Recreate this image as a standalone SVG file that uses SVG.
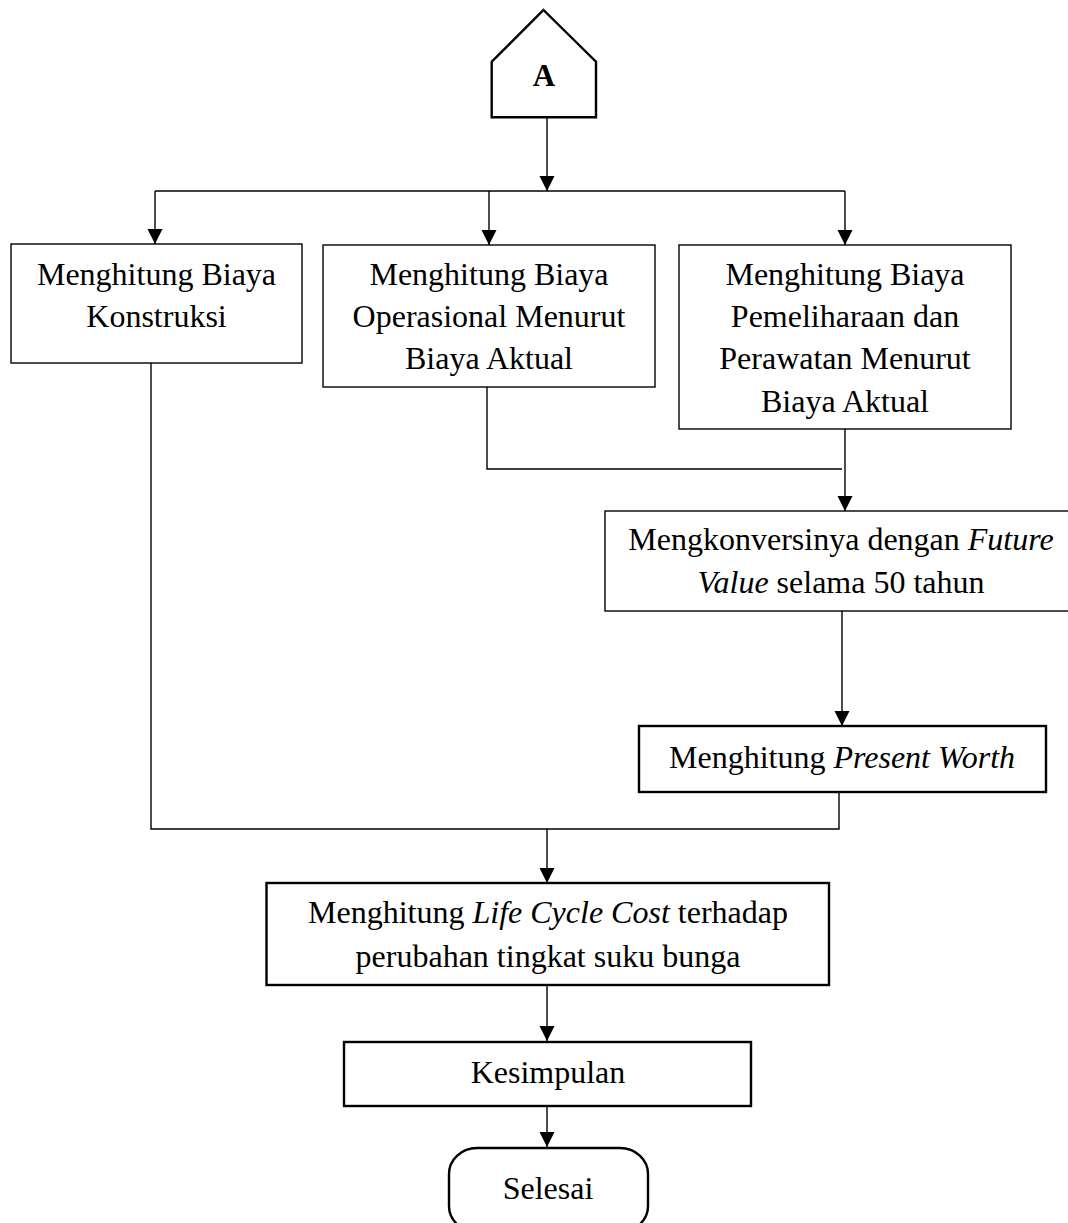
<svg xmlns="http://www.w3.org/2000/svg" width="1068" height="1223" viewBox="0 0 1068 1223">
<style>
text{font-family:"Liberation Serif","Times New Roman",serif;font-size:32px;fill:#000;text-anchor:middle}
.i{font-style:italic}
.thin{fill:#fff;stroke:#000;stroke-width:1.4}
.thick{fill:#fff;stroke:#000;stroke-width:2.4}
.c{fill:none;stroke:#000;stroke-width:1.4}
</style>
<defs>
<marker id="ah" markerUnits="userSpaceOnUse" markerWidth="16" markerHeight="16" refX="15" refY="7.5" orient="auto">
<path d="M0,0 L15,7.5 L0,15 z" fill="#000"/>
</marker>
</defs>
<rect width="1068" height="1223" fill="#fff"/>
<g id="connectors">
<path class="c" d="M547,117 V191" marker-end="url(#ah)"/>
<path class="c" d="M155,191 H845"/>
<path class="c" d="M155,191 V244" marker-end="url(#ah)"/>
<path class="c" d="M489,191 V245" marker-end="url(#ah)"/>
<path class="c" d="M845,191 V245" marker-end="url(#ah)"/>
<path class="c" d="M151,363 V829 H839 V792"/>
<path class="c" d="M487,387 V469 H842"/>
<path class="c" d="M845,429 V511" marker-end="url(#ah)"/>
<path class="c" d="M842,611 V726" marker-end="url(#ah)"/>
<path class="c" d="M547,829 V883" marker-end="url(#ah)"/>
<path class="c" d="M547,985 V1041" marker-end="url(#ah)"/>
<path class="c" d="M547,1106 V1147" marker-end="url(#ah)"/>
</g>
<g id="nodeA">
<path class="thick" d="M543.5,10 L596,61.7 V117.3 H491.7 V61.7 Z"/>
<text x="544" y="85.5" style="font-weight:bold;font-size:31px">A</text>
</g>
<g id="node1">
<rect class="thin" x="11" y="244" width="291" height="119"/>
<text x="156.5" y="285">Menghitung Biaya</text>
<text x="156.5" y="327">Konstruksi</text>
</g>
<g id="node2">
<rect class="thin" x="323" y="245" width="332" height="142"/>
<text x="489" y="285">Menghitung Biaya</text>
<text x="489" y="327">Operasional Menurut</text>
<text x="489" y="369">Biaya Aktual</text>
</g>
<g id="node3">
<rect class="thin" x="679" y="245" width="332" height="184"/>
<text x="845" y="285">Menghitung Biaya</text>
<text x="845" y="327">Pemeliharaan dan</text>
<text x="845" y="369">Perawatan Menurut</text>
<text x="845" y="412">Biaya Aktual</text>
</g>
<g id="node4">
<rect class="thin" x="605" y="511" width="472" height="100"/>
<text x="841" y="550">Mengkonversinya dengan <tspan class="i">Future</tspan></text>
<text x="841" y="593"><tspan class="i">Value</tspan> selama 50 tahun</text>
</g>
<g id="node5">
<rect class="thick" x="639" y="726" width="407" height="66"/>
<text x="842" y="768">Menghitung <tspan class="i">Present Worth</tspan></text>
</g>
<g id="node6">
<rect class="thick" x="266.5" y="883" width="562.5" height="102"/>
<text x="548" y="923">Menghitung <tspan class="i">Life Cycle Cost</tspan> terhadap</text>
<text x="548" y="967">perubahan tingkat suku bunga</text>
</g>
<g id="node7">
<rect class="thick" x="344" y="1042" width="407" height="64"/>
<text x="548" y="1083">Kesimpulan</text>
</g>
<g id="nodeEnd">
<rect class="thick" x="449" y="1148" width="199" height="84" rx="28" ry="26"/>
<text x="548" y="1199">Selesai</text>
</g>
</svg>
